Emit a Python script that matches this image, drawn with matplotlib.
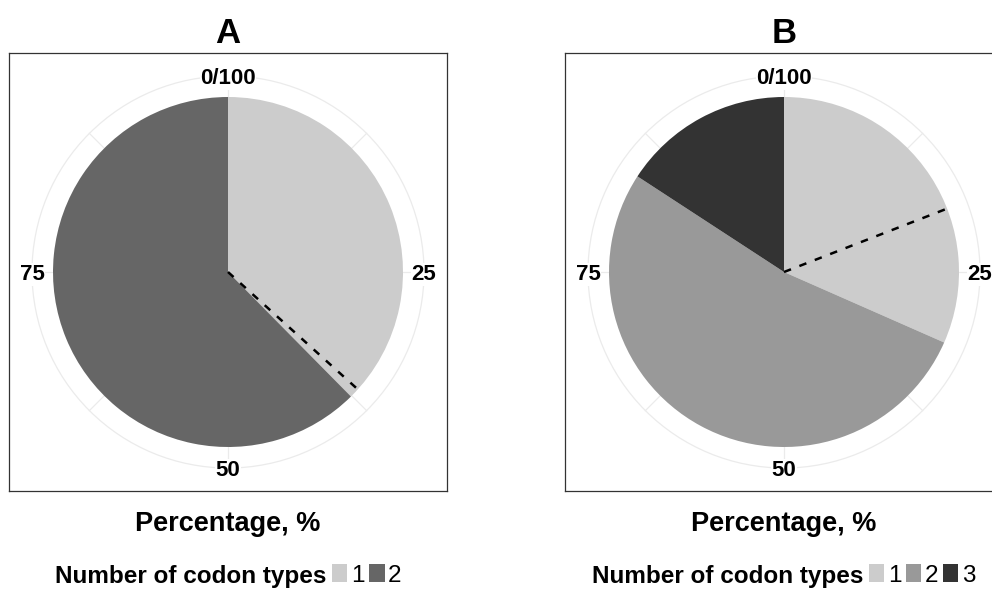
import numpy as np
import matplotlib
matplotlib.use("Agg")
import matplotlib.pyplot as plt
from matplotlib.patches import Patch, Circle

plt.rcParams['font.family'] = ['Liberation Sans', 'DejaVu Sans']

# share of genes by number of codon types, percent
types_a = ['1', '2']
share_a = [37.6, 62.4]
types_b = ['1', '2', '3']
share_b = [31.6, 52.6, 15.8]
# dashed reference position on each pie, percent
ref_a = 36.7
ref_b = 19.1

colors_a = ['#CCCCCC', '#666666']
colors_b = ['#CCCCCC', '#999999', '#333333']
theta_ticks = [0, 25, 50, 75]
theta_labels = ['0/100', '25', '50', '75']

W, H = 992, 590
fig = plt.figure(figsize=(W / 100, H / 100), dpi=100)


def px(x, y):
    return x / W, 1 - y / H


GRID_R = 1.12
HALF = 219 / 175
LEG_FS = 17.5


def pct_xy(p, r):
    a = np.deg2rad(90 - p * 3.6)
    return r * np.cos(a), r * np.sin(a)


def draw_panel(left, title, labels, shares, colors, ref):
    ax = fig.add_axes([left / W, 1 - 491 / H, 438 / W, 438 / H])
    # polar grid behind the pie
    ax.add_patch(Circle((0, 0), GRID_R, fill=False, ec='#EBEBEB', lw=0.9, zorder=0))
    for p in np.arange(0, 100, 12.5):
        x, y = pct_xy(p, GRID_R)
        ax.plot([0, x], [0, y], color='#EBEBEB', lw=0.9, zorder=0)
    ax.pie(shares, colors=colors, startangle=90, counterclock=False,
           radius=1, wedgeprops=dict(linewidth=0))
    x, y = pct_xy(ref, 1.0)
    ax.plot([0, x], [0, y], color='black', lw=1.8, ls=(0, (3.0, 3.6)), zorder=5)
    for p, lab in zip(theta_ticks, theta_labels):
        x, y = pct_xy(p, GRID_R)
        ax.text(x, y, lab, ha='center', va='center_baseline', fontsize=16,
                fontweight='bold', color='black', zorder=6,
                bbox=dict(fc='white', ec='none', pad=0.5))
    ax.set_xlim(-HALF, HALF)
    ax.set_ylim(-HALF, HALF)
    ax.set_aspect('equal', adjustable='box')
    ax.set_frame_on(True)
    ax.set_xticks([])
    ax.set_yticks([])
    for s in ax.spines.values():
        s.set_color('#333333')
        s.set_linewidth(0.9)

    cx = left + 219
    fig.text(*px(cx, 42.7), title, ha='center', va='baseline',
             fontsize=25, fontweight='bold')
    fig.text(*px(cx, 531), 'Percentage, %', ha='center', va='baseline',
             fontsize=19.5, fontweight='bold')
    return ax


def draw_legend(x0, labels, colors):
    t = fig.text(*px(x0, 582.7), 'Number of codon types', ha='left',
                 va='baseline', fontsize=LEG_FS, fontweight='bold')
    fig.canvas.draw()
    bb = t.get_window_extent()
    handles = [Patch(facecolor=c, edgecolor='none') for c in colors]
    fig.legend(handles, labels, loc='center left',
               bbox_to_anchor=((bb.x1 + 6) / W, 1 - 575.5 / H),
               ncol=len(labels), frameon=False, fontsize=LEG_FS,
               handlelength=0.62, handleheight=0.7, handletextpad=0.15,
               columnspacing=0.2, borderpad=0, borderaxespad=0)


draw_panel(9, 'A', types_a, share_a, colors_a, ref_a)
draw_panel(565, 'B', types_b, share_b, colors_b, ref_b)
draw_legend(55, types_a, colors_a)
draw_legend(591.7, types_b, colors_b)

fig.savefig('out.png', dpi=100)
